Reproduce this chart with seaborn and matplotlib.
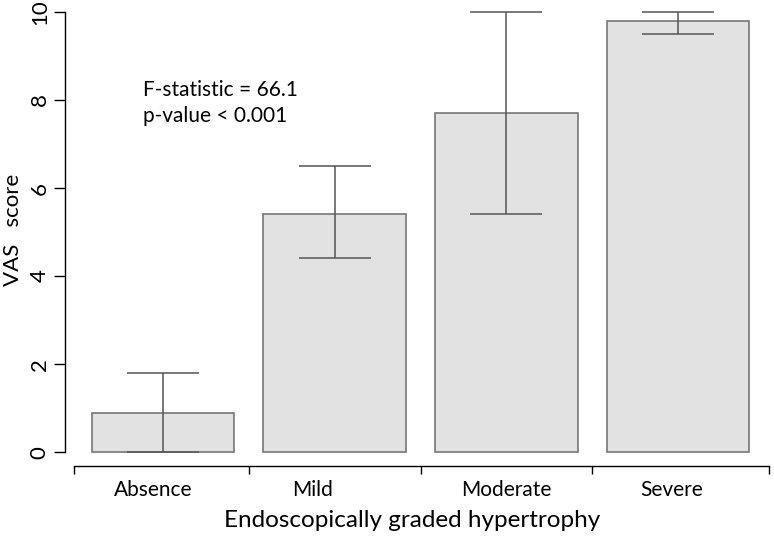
import numpy as np
import pandas as pd
import matplotlib
matplotlib.use("Agg")
import matplotlib.pyplot as plt
import seaborn as sns

# values
groups = ["Absence", "Mild", "Moderate", "Severe"]
vas_mean = [0.9, 5.4, 7.7, 9.8]
err_low = [0.0, 4.4, 5.4, 9.5]
err_high = [1.8, 6.5, 10.0, 10.0]
y_ticks = [0, 2, 4, 6, 8, 10]

df = pd.DataFrame({"grade": groups, "vas": vas_mean})

sns.set_style("ticks")
plt.rcParams["font.family"] = ["Lato", "DejaVu Sans"]
plt.rcParams["text.color"] = "black"
plt.rcParams["xtick.color"] = "black"
plt.rcParams["ytick.color"] = "black"

fig = plt.figure(figsize=(7.74, 5.39), dpi=100)
ax = fig.add_axes([0.084, 0.135, 0.914, 0.847])

sns.barplot(data=df, x="grade", y="vas", order=groups, color="#e2e2e2",
            saturation=1, edgecolor="#777777", linewidth=1.2, width=0.83,
            errorbar=None, ax=ax)

pos = np.arange(len(groups))
mean = np.array(vas_mean)
yerr = [mean - np.array(err_low), np.array(err_high) - mean]
ax.errorbar(pos, mean, yerr=yerr, fmt="none", ecolor="#555555",
            elinewidth=1.1, capsize=26, capthick=1.1)

ax.set_xlim(-0.571, 3.55)
ax.set_ylim(-0.32, 10.05)

sns.despine(ax=ax)
ax.spines["left"].set_bounds(0, 10)
ax.spines["bottom"].set_bounds(-0.52, 3.53)
for s in ["left", "bottom"]:
    ax.spines[s].set_color("black")
    ax.spines[s].set_linewidth(1.0)

# y axis, R style rotated labels
ax.set_yticks(y_ticks)
ax.set_yticklabels([str(v) for v in y_ticks], rotation=90, va="center")
ax.tick_params(axis="y", length=8, width=1, labelsize=16, pad=3)

# x axis: ticks between groups, labels under bars (slightly left like the original)
ax.set_xticks([-0.52, 0.5, 1.5, 2.5, 3.53])
ax.set_xticklabels([])
ax.set_xticks([-0.06, 0.87, 2.0, 2.96], minor=True)
ax.set_xticklabels(groups, minor=True)
ax.tick_params(axis="x", which="major", length=6, width=1)
ax.tick_params(axis="x", which="minor", length=0, pad=10, labelsize=15)

ax.set_xlabel("")
ax.set_ylabel("")

ax.text(-0.116, 8.23, "F-statistic = 66.1", fontsize=15, va="center", ha="left")
ax.text(-0.116, 7.64, "p-value < 0.001", fontsize=15, va="center", ha="left")

fig.text(0.017, 0.573, "VAS   score", rotation=90, fontsize=16, ha="center", va="center")
fig.text(0.532, 0.034, "Endoscopically graded hypertrophy", fontsize=17.5, ha="center", va="center")

fig.savefig("out.png", dpi=100)
